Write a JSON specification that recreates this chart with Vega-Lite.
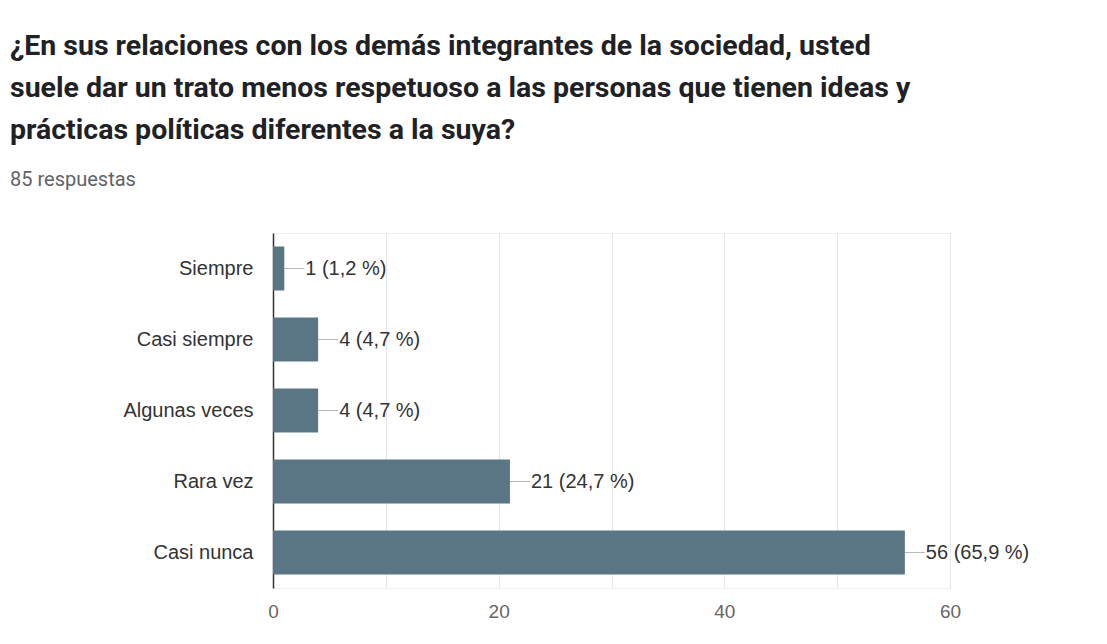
{
  "$schema": "https://vega.github.io/schema/vega-lite/v6.json",
  "autosize": {"type": "none"},
  "width": 677,
  "height": 355,
  "padding": {"left": 273, "top": 233, "right": 157, "bottom": 56},
  "background": "#ffffff",
  "title": {
    "text": ["¿En sus relaciones con los demás integrantes de la sociedad, usted", "suele dar un trato menos respetuoso a las personas que tienen ideas y", "prácticas políticas diferentes a la suya?"],
    "subtitle": "85 respuestas",
    "anchor": "start",
    "frame": "group",
    "dx": -263,
    "offset": 43,
    "font": "Roboto",
    "fontSize": 28.5,
    "fontWeight": "bold",
    "color": "#202124",
    "lineHeight": 42,
    "subtitleFont": "Roboto",
    "subtitleFontSize": 20,
    "subtitleColor": "#5f6368",
    "subtitlePadding": 26
  },
  "data": {
    "values": [
      {"cat": "Siempre", "n": 1, "label": "1 (1,2 %)"},
      {"cat": "Casi siempre", "n": 4, "label": "4 (4,7 %)"},
      {"cat": "Algunas veces", "n": 4, "label": "4 (4,7 %)"},
      {"cat": "Rara vez", "n": 21, "label": "21 (24,7 %)"},
      {"cat": "Casi nunca", "n": 56, "label": "56 (65,9 %)"}
    ]
  },
  "config": {
    "view": {"stroke": "#eeeeee"},
    "font": "Liberation Sans"
  },
  "encoding": {
    "y": {
      "field": "cat",
      "type": "nominal",
      "sort": null,
      "scale": {"paddingInner": 0.38, "paddingOuter": 0.19},
      "axis": {
        "title": null,
        "ticks": false,
        "labelFontSize": 20,
        "labelColor": "#333333",
        "labelPadding": 20,
        "domainColor": "#333333",
        "domainWidth": 1.5,
        "labelFont": "Liberation Sans"
      }
    }
  },
  "layer": [
    {
      "mark": {"type": "bar", "color": "#5a7685"},
      "encoding": {
        "x": {
          "field": "n",
          "type": "quantitative",
          "scale": {"domain": [0, 60], "nice": false},
          "axis": {
            "title": null,
            "values": [0, 10, 20, 30, 40, 50, 60],
            "labelExpr": "datum.value % 20 === 0 ? datum.label : ''",
            "labelFlush": false,
            "domain": false,
            "ticks": false,
            "gridColor": "#e6e6e6",
            "labelFontSize": 19,
            "labelColor": "#666666",
            "labelPadding": 14,
            "labelFont": "Liberation Sans"
          }
        }
      }
    },
    {
      "mark": {"type": "tick", "orient": "horizontal", "color": "#999999", "thickness": 1, "size": 20, "xOffset": 10},
      "encoding": {
        "x": {"field": "n", "type": "quantitative"}
      }
    },
    {
      "mark": {"type": "text", "align": "left", "baseline": "middle", "dx": 21, "fontSize": 20, "color": "#333333"},
      "encoding": {
        "x": {"field": "n", "type": "quantitative"},
        "text": {"field": "label"}
      }
    }
  ]
}
